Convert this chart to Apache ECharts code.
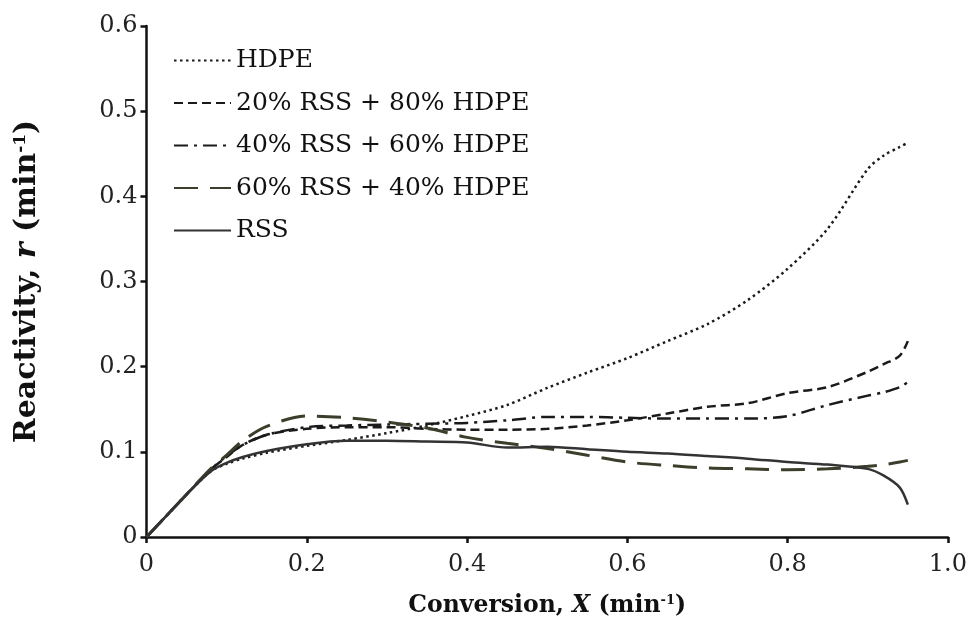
<!DOCTYPE html>
<html>
<head>
<meta charset="utf-8">
<script src="https://cdn.jsdelivr.net/npm/echarts@6/dist/echarts.min.js"></script>
<style>
html,body{margin:0;padding:0;background:#fff;}
#chart{width:970px;height:635px;}
</style>
</head>
<body>
<div id="chart"></div>
<script>
const seriesNames = ['HDPE', '20% RSS + 80% HDPE', '40% RSS + 60% HDPE', '60% RSS + 40% HDPE', 'RSS'];
const conversion = [0, 0.02, 0.05, 0.08, 0.1, 0.12, 0.15, 0.2, 0.25, 0.3, 0.35, 0.4, 0.45, 0.5, 0.55, 0.6, 0.65, 0.7, 0.75, 0.8, 0.85, 0.9, 0.92, 0.94, 0.95];
const hdpe = [0, 0.02, 0.05, 0.077, 0.086, 0.092, 0.099, 0.107, 0.114, 0.122, 0.131, 0.142, 0.155, 0.175, 0.193, 0.21, 0.23, 0.25, 0.278, 0.315, 0.362, 0.432, 0.448, 0.458, 0.463];
const rss20 = [0, 0.02, 0.05, 0.079, 0.094, 0.108, 0.12, 0.127, 0.129, 0.129, 0.127, 0.126, 0.126, 0.127, 0.131, 0.137, 0.145, 0.153, 0.157, 0.169, 0.176, 0.194, 0.203, 0.213, 0.23];
const rss40 = [0, 0.02, 0.05, 0.079, 0.095, 0.108, 0.12, 0.129, 0.131, 0.132, 0.133, 0.134, 0.137, 0.141, 0.141, 0.14, 0.139, 0.139, 0.139, 0.142, 0.155, 0.166, 0.17, 0.176, 0.182];
const rss60 = [0, 0.02, 0.05, 0.08, 0.096, 0.113, 0.13, 0.142, 0.14, 0.135, 0.128, 0.117, 0.11, 0.104, 0.096, 0.088, 0.084, 0.081, 0.08, 0.079, 0.08, 0.083, 0.085, 0.088, 0.09];
const rss = [0, 0.02, 0.05, 0.077, 0.087, 0.094, 0.101, 0.109, 0.113, 0.113, 0.112, 0.111, 0.105, 0.106, 0.103, 0.1, 0.098, 0.095, 0.092, 0.088, 0.085, 0.08, 0.072, 0.058, 0.038];
const xTicks = {min: 0, max: 1, interval: 0.2};
const yTicks = {min: 0, max: 0.6, interval: 0.1};

const values = [hdpe, rss20, rss40, rss60, rss];
const styles = [
  {color: '#1a1a1a', width: 2.5, type: [2.5, 3.5]},
  {color: '#1a1a1a', width: 2.5, type: [9, 5]},
  {color: '#1a1a1a', width: 2.5, type: [14, 6, 3, 6]},
  {color: '#3d3d2b', width: 3, type: [24, 12]},
  {color: '#333333', width: 2.5, type: 'solid'}
];

const serif = 'DejaVu Serif';
const chart = echarts.init(document.getElementById('chart'), null, {renderer: 'canvas'});
const fmt = v => v === 0 ? '0' : v.toFixed(1);
const titleRich = (size) => ({
  b: {fontFamily: serif, fontWeight: 'bold', fontSize: size, color: '#111'},
  i: {fontFamily: serif, fontWeight: 'bold', fontStyle: 'italic', fontSize: size, color: '#111'},
  s: {fontFamily: serif, fontWeight: 'bold', fontSize: Math.round(size * 0.55), color: '#111', verticalAlign: 'top'}
});

chart.setOption({
  backgroundColor: '#fff',
  animation: false,
  grid: {left: 146.5, right: 21, top: 26, bottom: 98},
  legend: {
    orient: 'vertical',
    left: 168,
    top: 43,
    itemWidth: 57,
    itemHeight: 14,
    itemGap: 17.5,
    itemStyle: {opacity: 0},
    data: seriesNames,
    textStyle: {fontFamily: serif, fontSize: 25, color: '#111', lineHeight: 24}
  },
  xAxis: {
    type: 'value',
    min: xTicks.min, max: xTicks.max, interval: xTicks.interval,
    name: '{b|Conversion, }{i|X}{b| (min}{s|-1}{b|)}',
    nameLocation: 'middle',
    nameGap: 57,
    nameTextStyle: {rich: titleRich(23.5)},
    axisLine: {lineStyle: {color: '#111', width: 2.5}},
    axisTick: {length: 6, lineStyle: {color: '#111', width: 2.5}},
    axisLabel: {formatter: fmt, fontFamily: serif, fontSize: 24, color: '#222', margin: 16},
    splitLine: {show: false}
  },
  yAxis: {
    type: 'value',
    min: yTicks.min, max: yTicks.max, interval: yTicks.interval,
    name: '{b|Reactivity, }{i|r}{b| (min}{s|-1}{b|)}',
    nameLocation: 'middle',
    nameGap: 104,
    nameRotate: 90,
    nameTextStyle: {rich: titleRich(30)},
    axisLine: {show: true, lineStyle: {color: '#111', width: 2.5}},
    axisTick: {show: true, length: 6, lineStyle: {color: '#111', width: 2.5}},
    axisLabel: {formatter: fmt, fontFamily: serif, fontSize: 24, color: '#222', margin: 9},
    splitLine: {show: false}
  },
  series: seriesNames.map((name, k) => ({
    name: name,
    type: 'line',
    symbol: 'none',
    smooth: 0.3,
    data: conversion.map((x, i) => [x, values[k][i]]),
    lineStyle: styles[k],
    itemStyle: {color: styles[k].color}
  }))
});
</script>
</body>
</html>
